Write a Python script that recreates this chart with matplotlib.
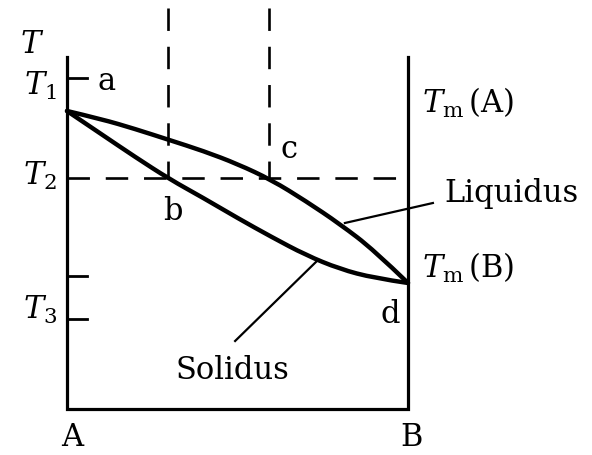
import numpy as np
import matplotlib
matplotlib.use('Agg')
import matplotlib.pyplot as plt
from matplotlib.path import Path
from matplotlib.patches import PathPatch

plt.rcParams['font.family'] = ['DejaVu Serif']
plt.rcParams['mathtext.fontset'] = 'dejavuserif'

# composition (0 = A, 1 = B) and temperature (arbitrary units)
comp = [0.0, 0.1, 0.2, 0.3, 0.4, 0.5, 0.6, 0.7, 0.8, 0.9, 1.0]
liquidus = [298, 290, 280, 269, 258, 245, 229, 208, 185, 159, 126]
solidus = [298, 275, 252, 230, 211, 191, 172, 154, 140, 131, 126]

T_top = 352
T1, T2, T3, T_extra = 331, 231, 90, 133
x_b, x_c = 0.296, 0.592
dash_top = 401

tick_labels = [(r'$T_1$', 314), (r'$T_2$', 224), (r'$T_3$', 90)]


def smooth_path(xs, ys):
    # quadratic bezier through midpoints, using the read points as control points
    pts = list(zip(xs, ys))
    verts = [pts[0]]
    codes = [Path.MOVETO]
    for i in range(1, len(pts) - 1):
        mid = ((pts[i][0] + pts[i + 1][0]) / 2, (pts[i][1] + pts[i + 1][1]) / 2)
        if i == len(pts) - 2:
            mid = pts[-1]
        verts += [pts[i], mid]
        codes += [Path.CURVE3, Path.CURVE3]
    return Path(verts, codes)


fig = plt.figure(figsize=(5.92, 4.55), dpi=100)
ax = fig.add_axes([0, 0, 1, 1])
ax.set_xlim(-0.1965, 1.5396)
ax.set_ylim(-46, 409)
ax.axis('off')

k = 'black'
# frame
ax.plot([0, 0, 1, 1], [T_top, 0, 0, T_top], color=k, lw=2.3, solid_joinstyle='miter')
# ticks on the left axis
for t in [T1, T_extra, T3]:
    ax.plot([0, 0.059], [t, t], color=k, lw=2)

# dashed guide lines
dash = dict(color=k, lw=1.9, dashes=(8.5, 6))
ax.plot([0, 1], [T2, T2], **dash)
ax.plot([x_b, x_b], [dash_top, T2], **dash)
ax.plot([x_c, x_c], [dash_top, T2], **dash)

# phase boundaries
for curve in (liquidus, solidus):
    ax.add_patch(PathPatch(smooth_path(comp, curve), fill=False, edgecolor=k,
                           lw=3.2, capstyle='round', joinstyle='round'))

# leader lines
ax.plot([0.815, 1.073], [186, 206], color=k, lw=1.6)
ax.plot([0.733, 0.493], [148, 68], color=k, lw=1.6)

fs = 22
ax.text(-0.103, 356, r'$T$', fontsize=fs, ha='center', va='baseline')
for lab, yb in tick_labels:
    ax.text(-0.029, yb, lab, fontsize=fs, ha='right', va='baseline')

ax.text(0.088, 319, 'a', fontsize=fs, ha='left', va='baseline')
ax.text(0.311, 189, 'b', fontsize=fs, ha='center', va='baseline')
ax.text(0.625, 251, 'c', fontsize=fs, ha='left', va='baseline')
ax.text(0.947, 86, 'd', fontsize=fs, ha='center', va='baseline')

ax.text(1.041, 296, r'$T_{\mathrm{m}}\,$(A)', fontsize=fs, ha='left', va='baseline')
ax.text(1.041, 131, r'$T_{\mathrm{m}}\,$(B)', fontsize=fs, ha='left', va='baseline')

ax.text(1.108, 207, 'Liquidus', fontsize=fs, ha='left', va='baseline')
ax.text(0.485, 30, 'Solidus', fontsize=fs, ha='center', va='baseline')

ax.text(0.015, -29, 'A', fontsize=fs, ha='center', va='center')
ax.text(1.009, -29, 'B', fontsize=fs, ha='center', va='center')

fig.savefig('out.png', dpi=100)
